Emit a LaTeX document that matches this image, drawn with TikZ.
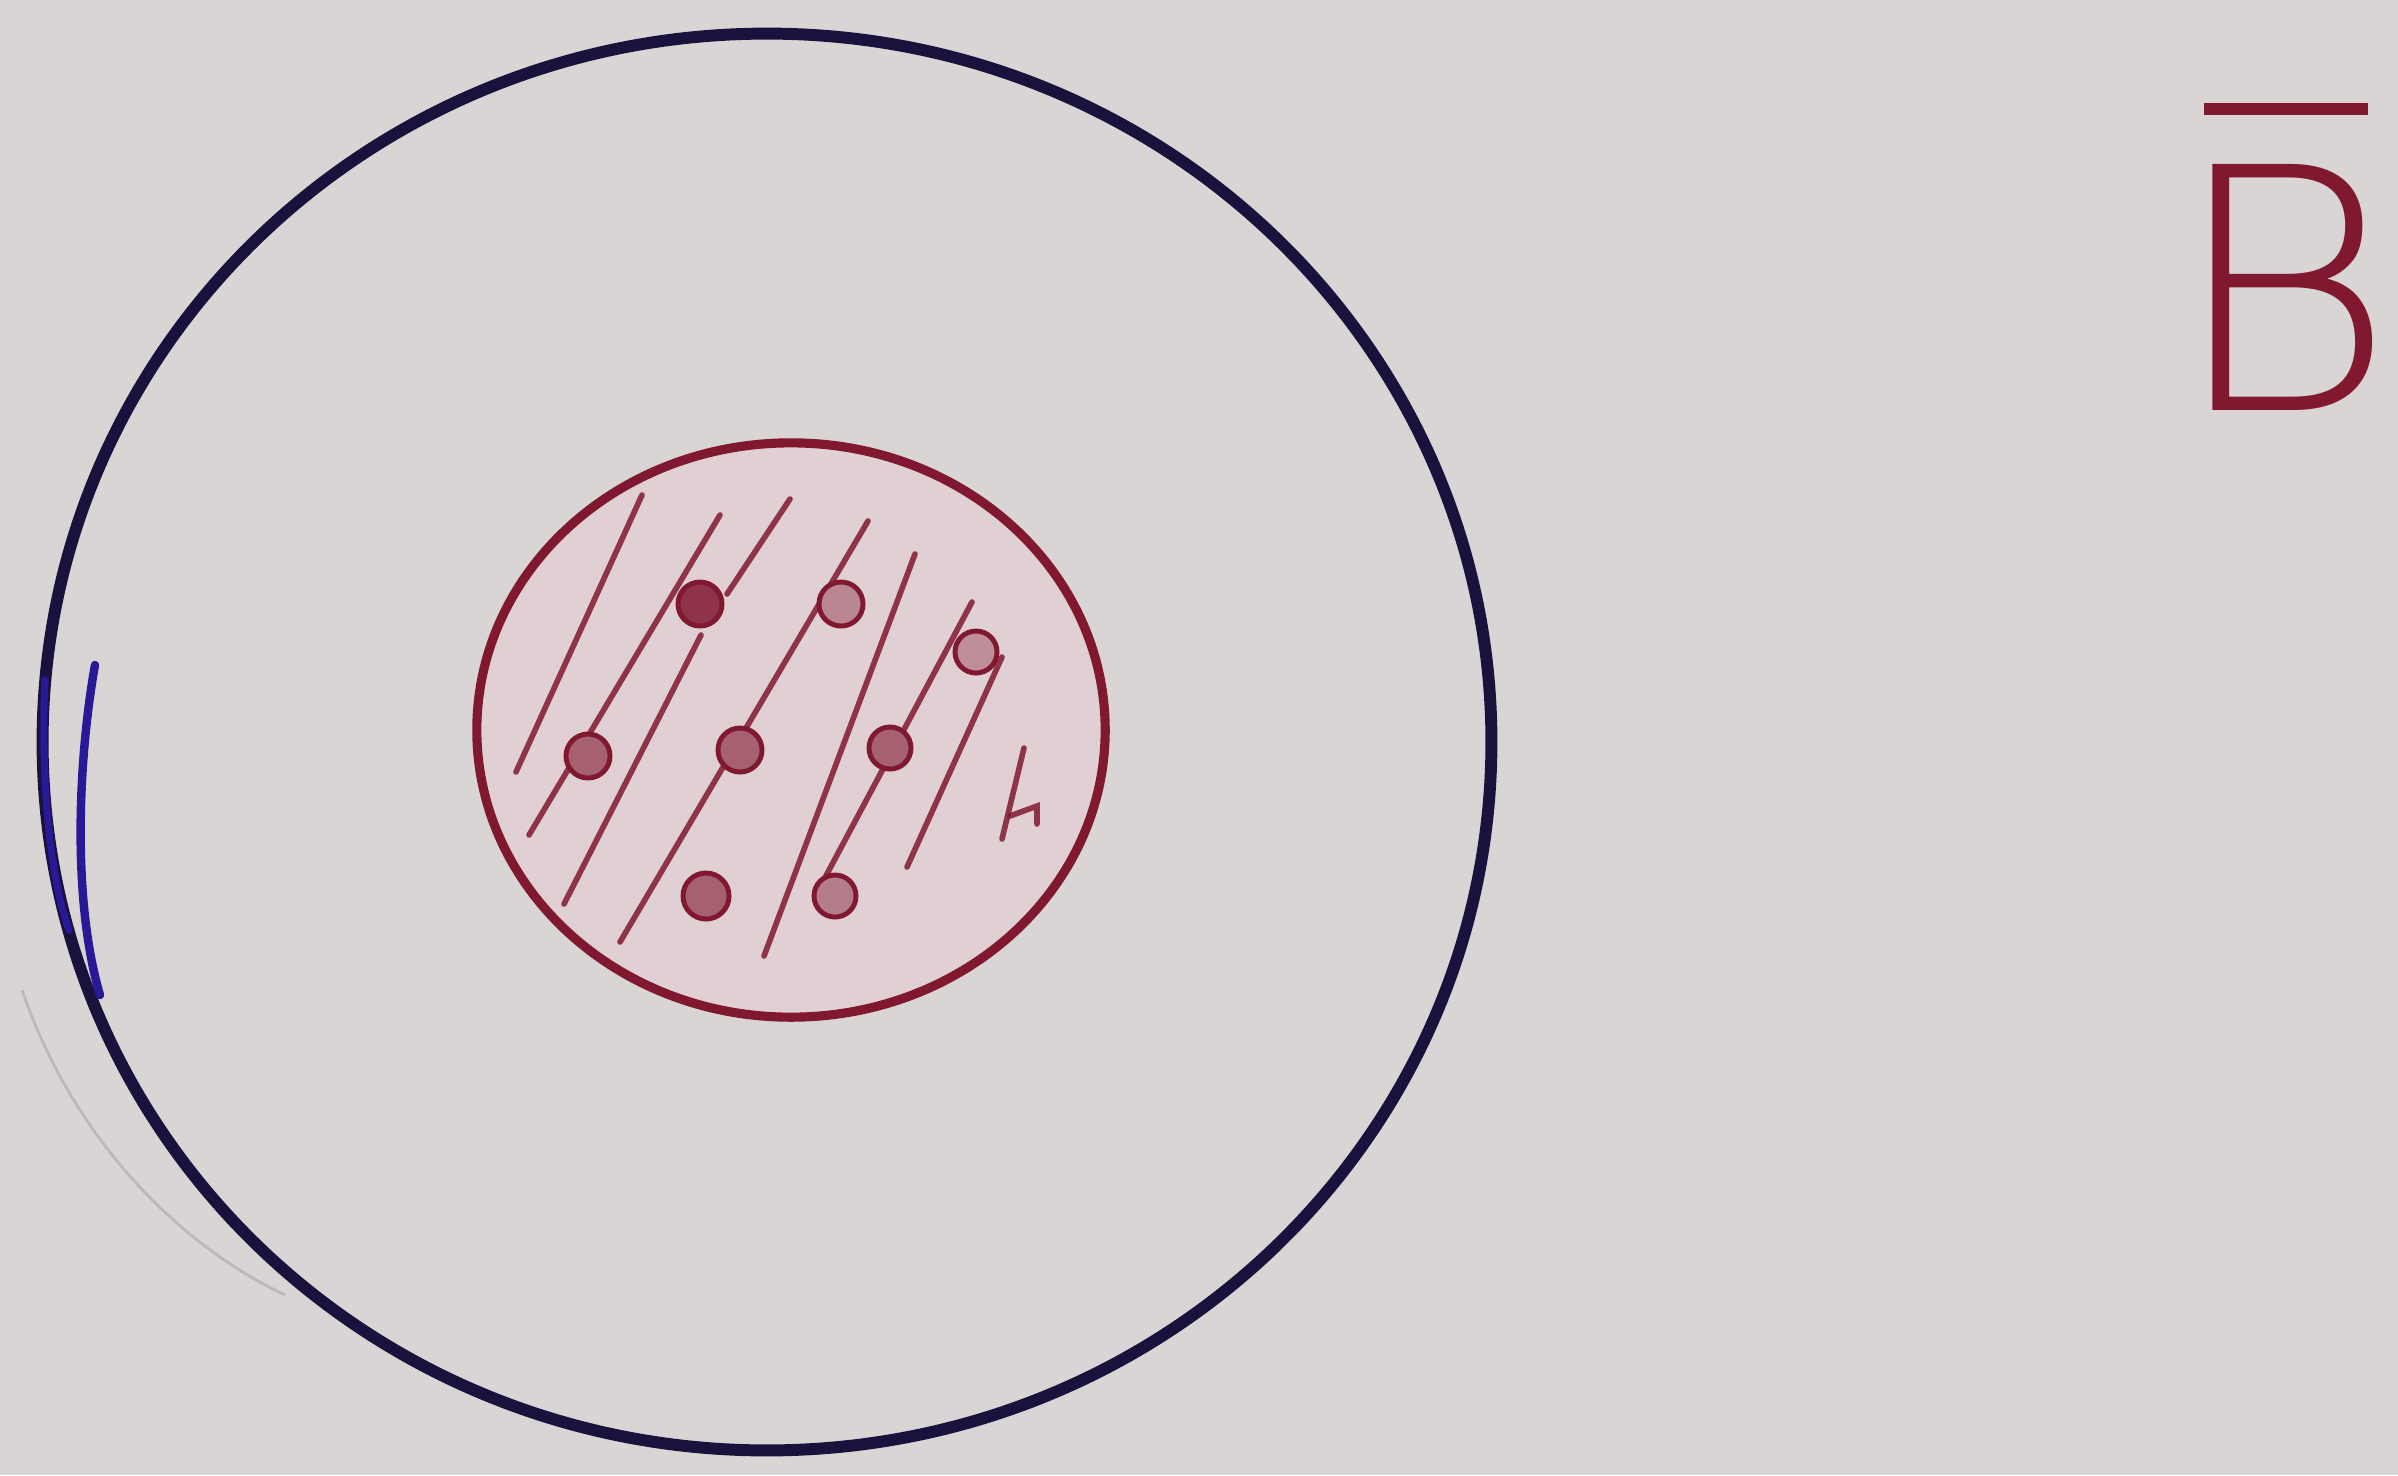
\documentclass[tikz,border=0pt]{standalone}
\usepackage{fontspec}
\usepackage{graphicx}
\newfontfamily\thinsans{DejaVu Sans ExtraLight}
\definecolor{paper}{RGB}{217,213,212}
\definecolor{pinkpaper}{RGB}{224,207,211}
\definecolor{inkblue}{RGB}{24,18,60}
\definecolor{brightblue}{RGB}{42,24,150}
\definecolor{redink}{RGB}{128,24,48}
\definecolor{pencil}{RGB}{188,185,188}
\newcommand{\barred}[1]{\setbox0\hbox{#1}\vbox{\offinterlineskip\hbox{\kern-4pt\vrule width\dimexpr\wd0+4pt\relax height 3.4pt depth 0pt}\kern 14pt\box0}}
\begin{document}
\begin{tikzpicture}[x=0.01cm,y=-0.01cm,
  bigring/.style={draw=inkblue, line width=3.4pt},
  redring/.style={draw=redink, fill=pinkpaper, line width=2.6pt},
  hatchline/.style={draw=redink, line width=1.6pt, line cap=round, opacity=0.85},
  dotmark/.style={draw=redink, fill=redink!60!pinkpaper, line width=1.4pt},
  label/.style={text=redink, font=\fontsize{96}{96}\selectfont\thinsans}]
\fill[paper] (0,0) rectangle (2398,1475);
\useasboundingbox (0,0) rectangle (2398,1475);

% faint pencil guide arc
\draw[pencil, line width=0.8pt] (22,990) .. controls (70,1130) and (170,1240) .. (285,1295);

% big circle
\draw[bigring] (767,742) ellipse [x radius=7.24cm, y radius=7.08cm];
\draw[brightblue, line width=2pt, line cap=round] (45,680) .. controls (41,760) and (47,870) .. (69,930);
\draw[brightblue, line width=2.4pt, line cap=round] (95,665) .. controls (78,760) and (72,900) .. (100,995);

% red circle
\filldraw[redring] (791,730) ellipse [x radius=3.14cm, y radius=2.87cm];

% hatching
\draw[hatchline] (642,495) -- (516,772);
\draw[hatchline] (720,515) -- (529,835);
\draw[hatchline] (701,635) -- (564,904);
\draw[hatchline] (790,499) -- (727,594);
\draw[hatchline] (868,521) -- (620,942);
\draw[hatchline] (915,554) -- (764,956);
\draw[hatchline] (972,602) -- (820,887);
\draw[hatchline] (1002,657) -- (907,867);
\draw[hatchline] (1024,748) -- (1002,839);
\draw[hatchline] (1010,816) -- (1037,806) -- (1037,824);

% dots
\filldraw[dotmark, fill=redink!85!pinkpaper] (700,604) circle [radius=0.22cm];
\filldraw[dotmark, fill=redink!40!pinkpaper] (841,604) circle [radius=0.22cm];
\filldraw[dotmark, fill=redink!35!pinkpaper] (976,652) circle [radius=0.21cm];
\filldraw[dotmark] (588,756) circle [radius=0.22cm];
\filldraw[dotmark] (740,750) circle [radius=0.22cm];
\filldraw[dotmark] (890,748) circle [radius=0.21cm];
\filldraw[dotmark] (706,896) circle [radius=0.23cm];
\filldraw[dotmark, fill=redink!45!pinkpaper] (835,896) circle [radius=0.21cm];

% label
\node[label, anchor=base, inner sep=0pt] (bbar) at (2293,410) {\scalebox{1.02}[1]{\barred{\kern-13.3pt B\kern-7.9pt}}};
\end{tikzpicture}
\end{document}
